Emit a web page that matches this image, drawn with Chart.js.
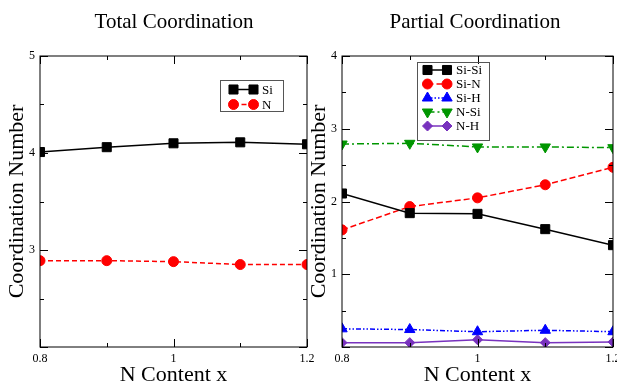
<!DOCTYPE html>
<html>
<head>
<meta charset="utf-8">
<script src="https://cdn.jsdelivr.net/npm/chart.js@4.4.1/dist/chart.umd.min.js"></script>
<style>
  body { margin: 0; width: 617px; height: 384px; overflow: hidden; background: #fff; position: relative; }
  #total { position: absolute; left: 0; top: 0; }
  #partial { position: absolute; left: 300px; top: 0; }
</style>
</head>
<body>
<canvas id="total" width="330" height="384"></canvas>
<canvas id="partial" width="330" height="384"></canvas>
<script>
// N content on the x axis, coordination numbers
const nContent = [0.8, 0.9, 1.0, 1.1, 1.2];

const totalSi = [4.01, 4.06, 4.10, 4.11, 4.09];
const totalN = [2.89, 2.89, 2.88, 2.85, 2.85];

const siSi = [2.11, 1.84, 1.83, 1.62, 1.40];
const siN = [1.61, 1.93, 2.05, 2.23, 2.47];
const siH = [0.25, 0.24, 0.21, 0.23, 0.21];
const nSi = [2.79, 2.80, 2.75, 2.75, 2.74];
const nH = [0.06, 0.06, 0.10, 0.06, 0.07];

const serif = "'Liberation Serif', 'Times New Roman', serif";
Chart.defaults.color = '#000';
Chart.defaults.font.family = serif;

function pts(ys) {
    return nContent.map((x, i) => ({ x: x, y: ys[i] }));
}

function series(label, ys, color, style, radius, dash, rotation) {
    return {
        label: label,
        data: pts(ys),
        borderColor: color,
        backgroundColor: color,
        borderWidth: 1.5,
        borderDash: dash,
        pointStyle: style,
        pointRadius: radius,
        pointRotation: rotation || 0,
        pointBorderWidth: 1,
        pointBorderColor: color,
        pointBackgroundColor: color,
        tension: 0
    };
}

// frame with inward ticks, title over the plot area and a boxed legend inside it
const gracePlot = {
    id: 'gracePlot',
    afterDraw(chart, args, opts) {
        const c = chart.ctx;
        const a = chart.chartArea;
        c.save();
        c.strokeStyle = '#000';
        c.lineWidth = 1;
        c.strokeRect(a.left, a.top, a.right - a.left, a.bottom - a.top);

        const xs = chart.scales.x;
        xs.ticks.forEach(t => {
            const px = Math.round(xs.getPixelForValue(t.value)) + 0.5;
            const len = Math.round(t.value * 10) % 2 === 0 ? 8 : 4;
            c.beginPath();
            c.moveTo(px, a.bottom); c.lineTo(px, a.bottom - len);
            c.moveTo(px, a.top); c.lineTo(px, a.top + len);
            c.stroke();
        });
        const ys = chart.scales.y;
        ys.ticks.forEach(t => {
            const py = Math.round(ys.getPixelForValue(t.value)) + 0.5;
            const len = Number.isInteger(Math.round(t.value * 10) / 10) ? 8 : 4;
            c.beginPath();
            c.moveTo(a.left, py); c.lineTo(a.left + len, py);
            c.moveTo(a.right, py); c.lineTo(a.right - len, py);
            c.stroke();
        });

        // title
        c.fillStyle = '#000';
        c.font = '21px ' + serif;
        c.textAlign = 'center';
        c.textBaseline = 'alphabetic';
        c.fillText(opts.title, (a.left + a.right) / 2 + opts.titleDx, 28);

        // legend
        const lg = opts.legend;
        c.strokeStyle = '#555';
        c.lineWidth = 1;
        c.strokeRect(lg.x + 0.5, lg.y + 0.5, lg.w, lg.h);
        c.font = '13px ' + serif;
        c.textAlign = 'left';
        c.textBaseline = 'middle';
        chart.data.datasets.forEach((ds, i) => {
            const y = lg.y + lg.first + i * lg.step;
            const x0 = lg.x + lg.sample0, x1 = lg.x + lg.sample1;
            c.strokeStyle = ds.borderColor;
            c.lineWidth = ds.borderWidth;
            c.setLineDash(ds.borderDash || []);
            c.beginPath(); c.moveTo(x0, y); c.lineTo(x1, y); c.stroke();
            c.setLineDash([]);
            c.fillStyle = ds.backgroundColor;
            c.lineWidth = 1;
            [x0, x1].forEach(px => {
                Chart.helpers.drawPoint(c, {
                    pointStyle: ds.pointStyle,
                    radius: ds.pointRadius,
                    rotation: ds.pointRotation,
                    borderWidth: 1
                }, px, y);
            });
            c.fillStyle = '#000';
            c.fillText(ds.label, lg.x + lg.text, y + 1);
        });
        c.restore();
    }
};

function axes(yMin, yMax, yWidth, yTitlePad) {
    return {
        x: {
            type: 'linear',
            min: 0.8,
            max: 1.2,
            afterFit: s => { s.height = 37; },
            ticks: {
                stepSize: 0.1,
                padding: 5,
                maxRotation: 0,
                autoSkip: false,
                font: { size: 12 },
                callback: v => Math.round(v * 10) % 2 === 0 ? String(+v.toFixed(1)) : ''
            },
            grid: { display: false, drawTicks: false },
            border: { display: false },
            title: {
                display: true,
                text: 'N Content x',
                font: { size: 22, lineHeight: 1 },
                padding: { top: 0, bottom: -2.5 }
            }
        },
        y: {
            min: yMin,
            max: yMax,
            afterFit: s => { s.width = yWidth; },
            ticks: {
                stepSize: 0.5,
                padding: 5,
                autoSkip: false,
                font: { size: 12 },
                callback: v => (Number.isInteger(v) && v !== yMin) ? String(v) : ''
            },
            grid: { display: false, drawTicks: false },
            border: { display: false },
            title: {
                display: true,
                text: 'Coordination Number',
                font: { size: 22, lineHeight: 1 },
                padding: { top: yTitlePad, bottom: 0 }
            }
        }
    };
}

new Chart(document.getElementById('total'), {
    type: 'line',
    data: {
        datasets: [
            series('Si', totalSi, '#000000', 'rect', 6.4, []),
            series('N', totalN, '#ff0000', 'circle', 5, [5, 3])
        ]
    },
    options: {
        responsive: false,
        animation: false,
        layout: { padding: { top: 56, right: 23, left: 0, bottom: 0 } },
        scales: axes(2, 5, 40, 6),
        plugins: {
            legend: { display: false },
            tooltip: { enabled: false },
            gracePlot: {
                title: 'Total Coordination',
                titleDx: 0.5,
                legend: { x: 220, y: 80, w: 63, h: 31, first: 9.5, step: 15, sample0: 13.5, sample1: 33.5, text: 42 }
            }
        }
    },
    plugins: [gracePlot]
});

new Chart(document.getElementById('partial'), {
    type: 'line',
    data: {
        datasets: [
            series('Si-Si', siSi, '#000000', 'rect', 6.4, []),
            series('Si-N', siN, '#ff0000', 'circle', 5, [6, 3]),
            series('Si-H', siH, '#0000ff', 'triangle', 6, [5, 2, 1.5, 2, 1.5, 2]),
            series('N-Si', nSi, '#009600', 'triangle', 6, [7, 3, 2, 3], 180),
            series('N-H', nH, '#7832be', 'rectRot', 5, [])
        ]
    },
    options: {
        responsive: false,
        animation: false,
        layout: { padding: { top: 56, right: 17, left: 0, bottom: 0 } },
        scales: axes(0, 4, 42, 8),
        plugins: {
            legend: { display: false },
            tooltip: { enabled: false },
            gracePlot: {
                title: 'Partial Coordination',
                titleDx: -2.5,
                legend: { x: 117, y: 62, w: 72, h: 78, first: 8, step: 14, sample0: 10.5, sample1: 30, text: 39 }
            }
        }
    },
    plugins: [gracePlot]
});
</script>
</body>
</html>
